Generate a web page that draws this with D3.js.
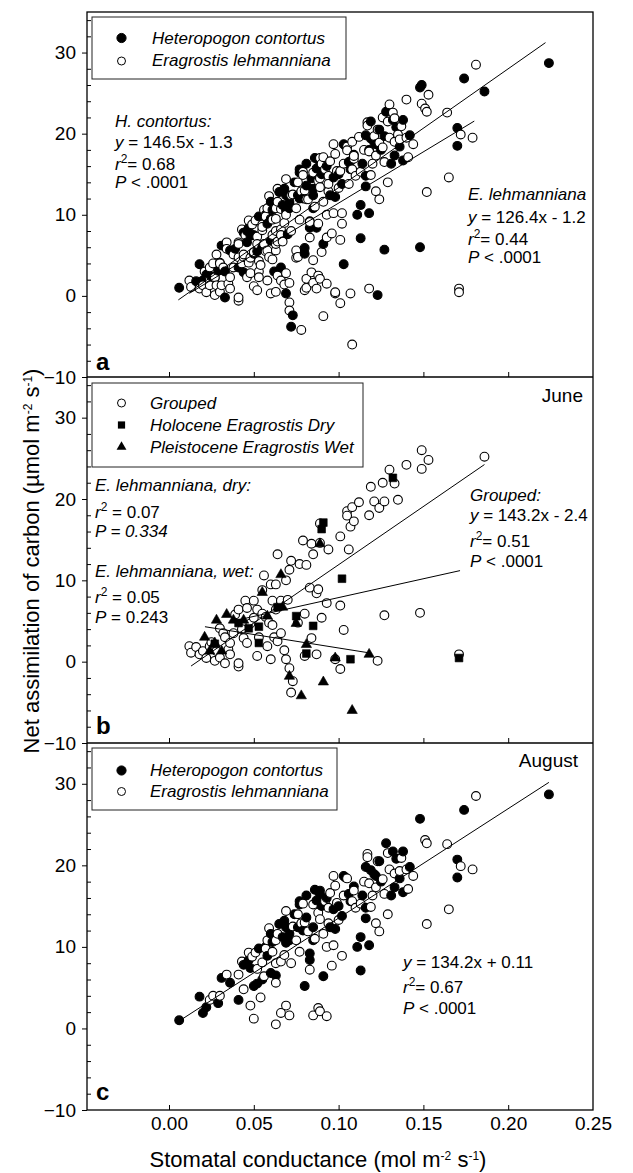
<!DOCTYPE html>
<html><head><meta charset="utf-8">
<script src="https://cdn.jsdelivr.net/npm/d3@7"></script>
<style>
body{margin:0;background:#fff}
text{font-family:"Liberation Sans",Arial,Helvetica,sans-serif;white-space:pre;fill:#000}
</style>
</head><body>
<svg id="chart" width="633" height="1173"></svg>
<script>
// ---------- data ----------
const xTicks = [0, 0.05, 0.10, 0.15, 0.20, 0.25];
const yTicks = [-10, 0, 10, 20, 30];
const yMinorTicks = [-8,-6,-4,-2,2,4,6,8,12,14,16,18,22,24,26,28,32,34];

// August, Heteropogon contortus (filled)
const augH = [[0.006,1.0],[0.020,1.9],[0.018,3.9],[0.022,2.6],[0.029,3.1],[0.031,6.2],[0.036,5.6],[0.041,3.5],[0.044,7.8],[0.046,8.0],[0.047,8.4],[0.048,7.4],[0.050,5.2],[0.052,5.5],[0.053,9.8],[0.055,6.0],[0.057,10.0],[0.058,8.9],[0.060,11.6],[0.061,10.6],[0.060,6.8],[0.063,6.5],[0.065,12.8],[0.067,11.2],[0.068,13.2],[0.069,12.4],[0.069,10.5],[0.071,10.8],[0.071,11.6],[0.074,14.0],[0.076,12.4],[0.077,15.6],[0.077,15.2],[0.079,12.0],[0.080,5.2],[0.081,13.6],[0.081,16.3],[0.083,8.4],[0.083,9.2],[0.085,12.4],[0.085,10.8],[0.086,17.0],[0.087,15.7],[0.089,16.9],[0.089,16.5],[0.090,15.0],[0.091,6.4],[0.093,16.0],[0.095,12.4],[0.097,14.6],[0.098,12.2],[0.100,15.0],[0.102,13.8],[0.103,18.7],[0.104,18.5],[0.106,16.5],[0.107,15.6],[0.109,17.4],[0.111,10.0],[0.113,11.2],[0.113,7.1],[0.114,16.3],[0.116,19.8],[0.116,13.5],[0.116,14.8],[0.118,10.2],[0.119,19.4],[0.121,18.9],[0.122,18.7],[0.124,20.5],[0.125,18.0],[0.128,22.7],[0.131,16.3],[0.132,21.7],[0.133,17.3],[0.134,20.8],[0.136,18.4],[0.138,21.7],[0.138,16.7],[0.142,19.8],[0.148,25.7],[0.170,20.7],[0.170,18.5],[0.174,26.8],[0.224,28.7]];
// August, Eragrostis lehmanniana (open)
const augE = [[0.024,3.5],[0.026,4.0],[0.030,4.0],[0.034,6.6],[0.041,6.6],[0.043,8.2],[0.044,4.8],[0.048,2.8],[0.049,8.8],[0.050,1.2],[0.054,3.8],[0.047,9.3],[0.051,9.3],[0.052,7.3],[0.055,8.1],[0.056,6.4],[0.057,9.8],[0.058,10.8],[0.059,12.3],[0.061,9.4],[0.063,10.8],[0.063,8.0],[0.063,5.6],[0.064,11.6],[0.066,8.2],[0.063,0.5],[0.066,1.9],[0.068,9.0],[0.069,2.8],[0.071,1.6],[0.069,14.4],[0.072,8.0],[0.073,12.5],[0.075,10.8],[0.076,14.0],[0.077,9.4],[0.078,12.9],[0.079,15.3],[0.080,13.0],[0.082,11.9],[0.083,7.2],[0.085,1.6],[0.086,11.0],[0.088,2.5],[0.089,2.1],[0.093,1.5],[0.085,15.2],[0.088,14.2],[0.089,13.4],[0.091,11.6],[0.092,15.6],[0.093,10.0],[0.094,14.8],[0.094,12.9],[0.095,16.6],[0.097,10.2],[0.096,7.7],[0.100,13.3],[0.102,8.9],[0.097,18.7],[0.098,17.5],[0.105,18.4],[0.099,15.4],[0.103,16.3],[0.108,15.6],[0.109,16.9],[0.110,14.8],[0.113,15.3],[0.115,18.0],[0.117,21.4],[0.117,21.0],[0.118,17.8],[0.119,14.9],[0.120,16.3],[0.122,17.3],[0.122,12.9],[0.123,20.5],[0.124,11.9],[0.126,18.3],[0.127,16.5],[0.129,14.0],[0.130,19.5],[0.129,21.5],[0.133,19.0],[0.136,19.3],[0.137,20.9],[0.140,19.5],[0.141,17.1],[0.144,18.7],[0.151,23.1],[0.152,22.7],[0.152,12.8],[0.164,22.6],[0.165,14.6],[0.172,19.9],[0.179,19.5],[0.181,28.5]];
// June, Heteropogon contortus
const juneH = [[0.149,26.0],[0.186,25.2],[0.119,21.5],[0.127,19.7],[0.118,18.0],[0.105,18.5],[0.107,16.6],[0.084,14.5],[0.085,13.2],[0.077,12.0],[0.071,11.3],[0.060,9.5],[0.087,8.4],[0.050,7.5],[0.070,7.6],[0.046,6.6],[0.066,3.5],[0.127,5.7],[0.148,6.0],[0.103,3.9],[0.033,3.0],[0.033,-0.2],[0.069,0.3],[0.073,-2.4],[0.072,-3.8],[0.123,0.1],[0.016,1.8],[0.025,2.4],[0.030,4.1],[0.039,5.8],[0.044,2.9],[0.055,5.9],[0.062,3.0],[0.080,5.9]];
// June, Eragrostis lehmanniana
const juneE = [[0.153,24.8],[0.149,23.7],[0.140,24.2],[0.130,23.6],[0.126,22.0],[0.133,21.9],[0.121,19.7],[0.135,19.9],[0.124,18.9],[0.112,19.6],[0.108,19.0],[0.105,17.95],[0.109,17.25],[0.101,15.4],[0.089,17.0],[0.079,14.9],[0.089,14.6],[0.094,13.8],[0.106,13.8],[0.064,13.2],[0.072,12.4],[0.081,11.9],[0.069,10.0],[0.056,10.6],[0.063,9.5],[0.055,8.8],[0.083,9.1],[0.088,8.9],[0.093,7.2],[0.101,6.9],[0.045,7.5],[0.061,7.5],[0.066,7.5],[0.041,6.4],[0.052,6.4],[0.063,6.4],[0.061,4.5],[0.053,3.0],[0.032,3.5],[0.036,2.3],[0.012,1.9],[0.013,1.1],[0.020,1.3],[0.022,0.45],[0.027,0.1],[0.036,0.9],[0.041,-0.6],[0.041,-0.2],[0.046,2.3],[0.052,0.7],[0.060,0.3],[0.058,1.9],[0.071,-0.8],[0.087,0.9],[0.098,0.3],[0.101,-0.9],[0.171,0.9],[0.080,0.7],[0.018,0.9],[0.024,1.9],[0.028,1.3],[0.030,0.5],[0.035,1.5],[0.038,3.5],[0.043,4.0],[0.048,4.7],[0.050,5.4],[0.057,5.5],[0.059,4.8],[0.064,2.5],[0.068,1.4],[0.076,4.8],[0.084,2.9],[0.090,5.4]];
// June, Holocene Eragrostis Dry (squares)
const juneDry = [[0.132,22.6],[0.091,17.1],[0.090,16.3],[0.102,10.2],[0.064,6.7],[0.075,5.6],[0.085,4.4],[0.047,4.1],[0.053,4.3],[0.041,4.75],[0.053,2.3],[0.081,1.0],[0.107,0.3],[0.171,0.45],[0.027,2.2]];
// June, Pleistocene Eragrostis Wet (triangles)
const juneWet = [[0.089,14.5],[0.066,10.7],[0.055,8.5],[0.067,6.7],[0.058,5.6],[0.028,5.1],[0.034,5.8],[0.038,5.1],[0.044,5.1],[0.075,4.7],[0.021,3.0],[0.027,2.3],[0.024,1.3],[0.031,1.3],[0.081,2.1],[0.118,0.9],[0.098,0.45],[0.071,-1.8],[0.091,-2.5],[0.078,-4.2],[0.108,-6.0]];

// regression fits: [slope, intercept, xStart, xEnd]
const fitA_H = [146.5, -1.3, 0.0055, 0.222];
const fitA_E = [126.4, -1.2, 0.012, 0.18];
const fitB_grouped = [143.2, -2.4, 0.013, 0.186];
const fitB_dry = [46.3, 3.25, 0.040, 0.1716];
const fitB_wet = [-33.2, 5.0, 0.0212, 0.1185];
const fitC = [134.2, 0.11, 0.006, 0.224];

// ---------- layout ----------
const svg = d3.select("#chart");
const L = 87, R = 593;
const panels = [{top:12,bottom:377},{top:377,bottom:743},{top:743,bottom:1110}];
const x = d3.scaleLinear().domain([-0.04835, 0.25]).range([L, R]);
panels.forEach(p => p.y = d3.scaleLinear().domain([-10, 35]).range([p.bottom, p.top]));

panels.forEach((p, i) => {
  const gMaj = svg.append("g").attr("transform", `translate(${L},0)`)
    .call(d3.axisLeft(p.y).tickValues(yTicks).tickSize(5).tickPadding(6).tickFormat(d3.format("d")));
  gMaj.select(".domain").remove();
  gMaj.selectAll("text").attr("font-size", 19).attr("font-family", null);
  const gMin = svg.append("g").attr("transform", `translate(${L},0)`)
    .call(d3.axisRight(p.y).tickValues(yMinorTicks).tickSize(4).tickFormat(""));
  gMin.select(".domain").remove();
  const gX = svg.append("g").attr("transform", `translate(0,${p.bottom})`)
    .call(d3.axisTop(x).tickValues(xTicks.slice(0, 5)).tickSize(5).tickFormat(""));
  gX.select(".domain").remove();
});
const gXL = svg.append("g").attr("transform", `translate(0,${panels[2].bottom})`)
  .call(d3.axisBottom(x).tickValues(xTicks).tickSize(0).tickPadding(7).tickFormat(d3.format(".2f")));
gXL.select(".domain").remove();
gXL.selectAll("text").attr("font-size", 19).attr("font-family", null);

svg.append("rect").attr("x", L).attr("y", panels[0].top).attr("width", R - L)
  .attr("height", panels[2].bottom - panels[0].top).attr("fill", "none").attr("stroke", "#000").attr("stroke-width", 1.3);
[panels[0].bottom, panels[1].bottom].forEach(yy =>
  svg.append("line").attr("x1", L).attr("x2", R).attr("y1", yy).attr("y2", yy).attr("stroke", "#000").attr("stroke-width", 1.3));

// ---------- helpers ----------
function richText(g, tx, ty, segs, size) {
  const t = g.append("text").attr("x", tx).attr("y", ty).attr("font-size", size || 17);
  let shift = 0;
  segs.forEach(s => {
    const sp = t.append("tspan").text(s.t);
    const target = s.sup ? -7 : 0;
    if (target !== shift) { sp.attr("dy", target - shift); shift = target; }
    if (s.sup) sp.attr("font-size", 12);
    if (s.i) sp.attr("font-style", "italic");
  });
  return t;
}
function fitLine(g, p, f) {
  g.append("line").attr("x1", x(f[2])).attr("y1", p.y(f[0]*f[2]+f[1]))
    .attr("x2", x(f[3])).attr("y2", p.y(f[0]*f[3]+f[1]))
    .attr("stroke", "#000").attr("stroke-width", 1);
}
function circles(g, p, data) {
  g.selectAll(null).data(data).join("circle")
    .attr("cx", d => x(d[0][0])).attr("cy", d => p.y(d[0][1])).attr("r", 4.4)
    .attr("fill", d => d[1] ? "#000" : "#fff").attr("stroke", "#000").attr("stroke-width", 1.1);
}
function symbols(g, p, data, type, size) {
  g.selectAll(null).data(data).join("path")
    .attr("d", d3.symbol().type(type).size(size))
    .attr("transform", d => `translate(${x(d[0])},${p.y(d[1])})`)
    .attr("fill", "#000").attr("stroke", "#000").attr("stroke-width", 0.6);
}
function legend(g, bx, by, bw, bh, items, tx) {
  g.append("rect").attr("x", bx).attr("y", by).attr("width", bw).attr("height", bh)
    .attr("fill", "#fff").attr("stroke", "#222").attr("stroke-width", 1);
  items.forEach(it => {
    if (it.kind === "circle") {
      g.append("circle").attr("cx", 121.5).attr("cy", it.my).attr("r", it.fill ? 4.6 : 4)
        .attr("fill", it.fill ? "#000" : "#fff").attr("stroke", "#000").attr("stroke-width", 1);
    } else {
      g.append("path").attr("d", d3.symbol().type(it.kind === "square" ? d3.symbolSquare : d3.symbolTriangle).size(it.kind === "square" ? 52 : 42))
        .attr("transform", `translate(121.5,${it.my})`).attr("fill", "#000");
    }
    g.append("text").attr("x", tx).attr("y", it.ty).attr("font-size", 17).attr("font-style", "italic").text(it.label);
  });
}

// ---------- panel a ----------
const pa = panels[0];
const ga = svg.append("g");
const dataA = [...augH.map(d => [d, 1]), ...juneH.map(d => [d, 1]),
  ...augE.map(d => [d, 0]), ...juneE.map(d => [d, 0]), ...juneDry.map(d => [d, 0]), ...juneWet.map(d => [d, 0])]
  .sort((a, b) => a[0][0] - b[0][0]);
circles(ga, pa, dataA);
fitLine(ga, pa, fitA_H);
fitLine(ga, pa, fitA_E);
legend(ga, 92, 17, 254, 62, [
  {kind:"circle", fill:true, my:38, ty:43.5, label:"Heteropogon contortus"},
  {kind:"circle", fill:false, my:61, ty:65.5, label:"Eragrostis lehmanniana"}], 152);
richText(ga, 115, 127, [{t:"H. contortus:", i:true}]);
richText(ga, 115, 148, [{t:"y", i:true}, {t:" = 146.5x - 1.3"}]);
richText(ga, 115, 170, [{t:"r", i:true}, {t:"2", sup:true}, {t:"= 0.68"}]);
richText(ga, 115, 188, [{t:"P", i:true}, {t:" < .0001"}]);
richText(ga, 468, 200, [{t:"E. lehmanniana", i:true}]);
richText(ga, 468, 223, [{t:"y", i:true}, {t:" = 126.4x - 1.2"}]);
richText(ga, 468, 245, [{t:"r", i:true}, {t:"2", sup:true}, {t:"= 0.44"}]);
richText(ga, 468, 263, [{t:"P", i:true}, {t:" < .0001"}]);
ga.append("text").attr("x", 96).attr("y", 370).attr("font-size", 24).attr("font-weight", "bold").text("a");

// ---------- panel b ----------
const pb = panels[1];
const gb = svg.append("g");
circles(gb, pb, [...juneH, ...juneE].sort((a, b) => a[0] - b[0]).map(d => [d, 0]));
symbols(gb, pb, juneDry, d3.symbolSquare, 60);
symbols(gb, pb, juneWet, d3.symbolTriangle, 46);
fitLine(gb, pb, fitB_grouped);
fitLine(gb, pb, fitB_dry);
fitLine(gb, pb, fitB_wet);
legend(gb, 92, 383, 271, 84, [
  {kind:"circle", fill:false, my:403, ty:409, label:"Grouped"},
  {kind:"square", my:425, ty:431, label:"Holocene Eragrostis Dry"},
  {kind:"triangle", my:447, ty:453, label:"Pleistocene Eragrostis Wet"}], 150);
gb.append("text").attr("x", 583).attr("y", 402).attr("text-anchor", "end").attr("font-size", 19).text("June");
richText(gb, 95, 491, [{t:"E. lehmanniana, dry:", i:true}]);
richText(gb, 95, 518, [{t:"r", i:true}, {t:"2", sup:true}, {t:" = 0.07"}]);
richText(gb, 95, 537, [{t:"P = 0.334", i:true}]);
richText(gb, 95, 577, [{t:"E. lehmanniana, wet:", i:true}]);
richText(gb, 95, 603, [{t:"r", i:true}, {t:"2", sup:true}, {t:" = 0.05"}]);
richText(gb, 95, 623, [{t:"P", i:true}, {t:" = 0.243"}]);
richText(gb, 470, 501, [{t:"Grouped:", i:true}]);
richText(gb, 470, 521, [{t:"y", i:true}, {t:" = 143.2x - 2.4"}]);
richText(gb, 470, 547, [{t:"r", i:true}, {t:"2", sup:true}, {t:"= 0.51"}]);
richText(gb, 470, 567, [{t:"P", i:true}, {t:" < .0001"}]);
gb.append("text").attr("x", 96).attr("y", 734).attr("font-size", 24).attr("font-weight", "bold").text("b");

// ---------- panel c ----------
const pc = panels[2];
const gc = svg.append("g");
circles(gc, pc, [...augH.map(d => [d, 1]), ...augE.map(d => [d, 0])].sort((a, b) => a[0][0] - b[0][0]));
fitLine(gc, pc, fitC);
legend(gc, 92, 748, 245, 62, [
  {kind:"circle", fill:true, my:770.5, ty:776, label:"Heteropogon contortus"},
  {kind:"circle", fill:false, my:791.5, ty:797, label:"Eragrostis lehmanniana"}], 150);
gc.append("text").attr("x", 578).attr("y", 767).attr("text-anchor", "end").attr("font-size", 19).text("August");
richText(gc, 403, 968, [{t:"y", i:true}, {t:" = 134.2x + 0.11"}]);
richText(gc, 403, 993, [{t:"r", i:true}, {t:"2", sup:true}, {t:"= 0.67"}]);
richText(gc, 403, 1014, [{t:"P", i:true}, {t:" < .0001"}]);
gc.append("text").attr("x", 96).attr("y", 1100).attr("font-size", 24).attr("font-weight", "bold").text("c");

// ---------- axis titles ----------
richText(svg, 318, 1167, [{t:"Stomatal conductance (mol m"}, {t:"-2", sup:true}, {t:" s"}, {t:"-1", sup:true}, {t:")"}], 22)
  .attr("text-anchor", "middle");
richText(svg, 0, 0, [{t:"Net assimilation of carbon (µmol m"}, {t:"-2", sup:true}, {t:" s"}, {t:"-1", sup:true}, {t:")"}], 22)
  .attr("text-anchor", "middle").attr("transform", "translate(39,561) rotate(-90)");
</script>
</body></html>
